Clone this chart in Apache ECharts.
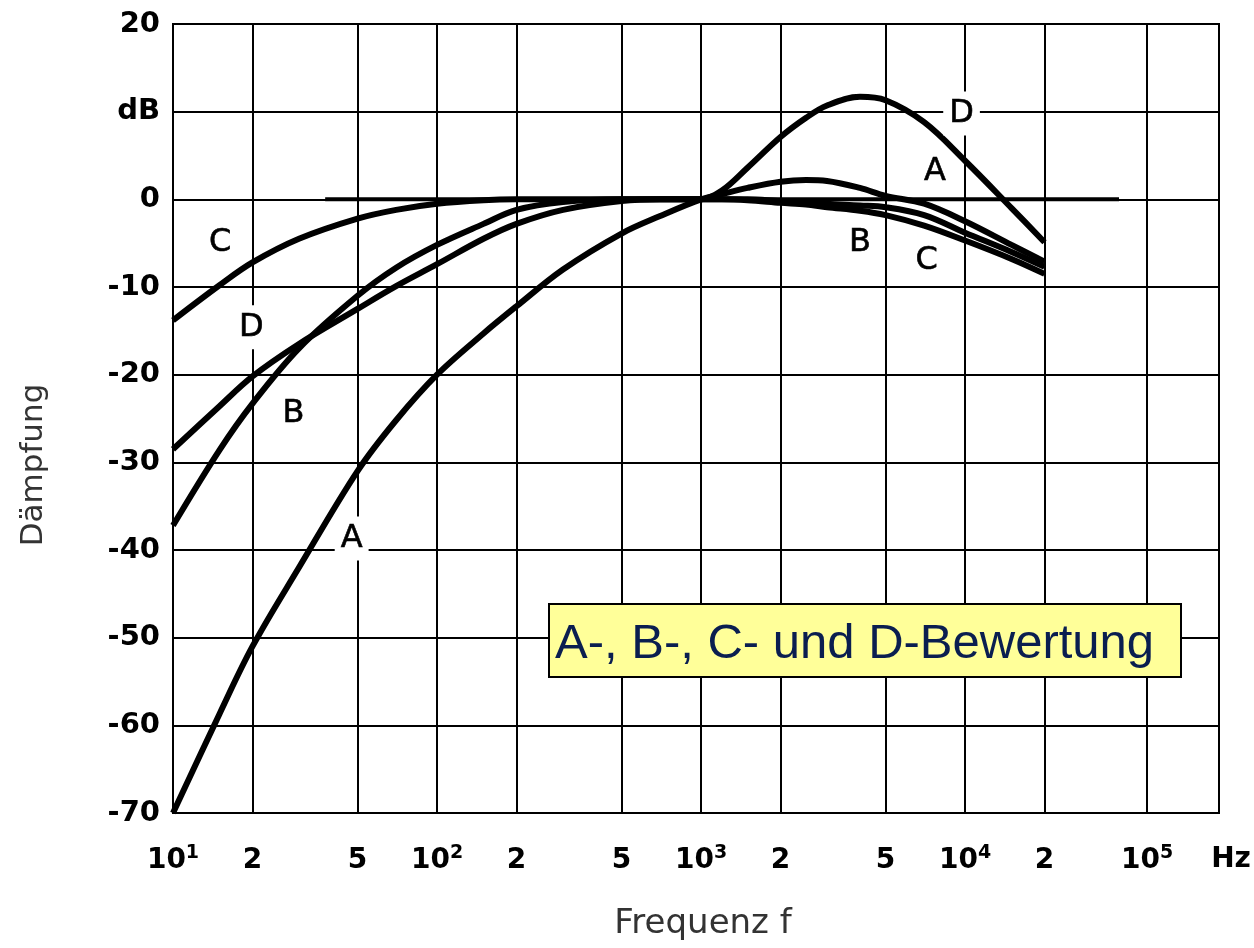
<!DOCTYPE html>
<html><head><meta charset="utf-8">
<script src="https://cdn.jsdelivr.net/npm/echarts@6/dist/echarts.min.js"></script>
<style>html,body{margin:0;padding:0;background:#fff}#c{width:1254px;height:948px}</style>
</head><body><div id="c"></div>
<script>
// ---- data ----
const freqHz = [10, 15, 20, 30, 50, 70, 100, 150, 200, 300, 500, 700, 1000, 1200, 1500, 2000, 2500, 3000, 4000, 5000, 7000, 10000, 15000, 20000];
const curveA = [-70, -58.7, -51, -42, -31, -25.2, -20, -15.3, -12.2, -8.0, -3.9, -1.9, 0, 0.6, 1.3, 2.0, 2.2, 2.1, 1.3, 0.4, -0.5, -2.5, -5.2, -7.1];
const curveB = [-37.2, -28.6, -23.3, -17, -11.0, -7.8, -5.2, -2.8, -1.2, -0.3, 0, 0, 0, 0, 0, -0.2, -0.3, -0.5, -0.7, -0.9, -1.8, -3.8, -6.0, -7.7];
const curveC = [-13.8, -9.8, -7.2, -4.5, -2.2, -1.2, -0.5, -0.1, 0, 0, 0, 0, 0, 0, -0.1, -0.4, -0.6, -0.9, -1.3, -1.8, -3.0, -4.7, -6.8, -8.5];
const curveD = [-28.5, -23.6, -20.2, -16.5, -12.5, -9.9, -7.4, -4.5, -2.8, -1.2, -0.2, 0, 0, 1.0, 3.6, 7.1, 9.3, 10.7, 11.7, 11.3, 8.8, 4.4, -1.0, -4.9];
const refLineHz = [37.7, 38300];
const refLineDb = [0, 0];
// grid lines of the original (its "10^5" line is drawn at ~49 kHz)
const xTickHz = [10, 20, 50, 100, 200, 500, 1000, 2000, 5000, 10000, 20000, 48900];
const xTickLabels = ['10^1', '2', '5', '10^2', '2', '5', '10^3', '2', '5', '10^4', '2', '10^5'];
const xMinHz = 10, xMaxHz = 91600;
const yTickDb = [-70, -60, -50, -40, -30, -20, -10, 0, 10, 20];
const yTickLabels = ['-70', '-60', '-50', '-40', '-30', '-20', '-10', '0', 'dB', '20'];
const curveLabels = [
  {text: 'C', hz: 15.1, db: -5.0, bg: false},
  {text: 'D', hz: 19.8, db: -14.6, bg: true},
  {text: 'B', hz: 28.6, db: -24.5, bg: false},
  {text: 'A', hz: 47.5, db: -38.7, bg: true},
  {text: 'D', hz: 9700, db: 9.8, bg: true},
  {text: 'A', hz: 7690, db: 3.1, bg: false},
  {text: 'B', hz: 4000, db: -4.9, bg: false},
  {text: 'C', hz: 7160, db: -7.0, bg: false}
];
const titleText = 'A-, B-, C- und D-Bewertung';

// ---- chart ----
const L = Math.log10;
const tickPos = xTickHz.map(L);
function mk(vals) { return freqHz.map((f, i) => [L(f), vals[i]]); }
const curveStyle = {type: 'line', smooth: 0.35, symbol: 'none', lineStyle: {color: '#000', width: 6}, z: 3};
const FONT = '"DejaVu Sans", sans-serif';

const chart = echarts.init(document.getElementById('c'));
chart.setOption({
  animation: false,
  backgroundColor: '#fff',
  grid: {left: 173, top: 24, right: 35, bottom: 135, show: true, borderColor: '#000', borderWidth: 2, outerBoundsMode: 'none', containLabel: false},
  xAxis: {
    type: 'value', min: L(xMinHz), max: L(xMaxHz),
    axisLine: {show: true, lineStyle: {color: '#000', width: 2}},
    axisTick: {show: false, customValues: tickPos},
    splitLine: {show: true, lineStyle: {color: '#000', width: 2}},
    axisLabel: {
      customValues: tickPos, margin: 31,
      formatter: function (v) {
        let idx = 0, best = 1e9;
        tickPos.forEach((p, i) => { if (Math.abs(p - v) < best) { best = Math.abs(p - v); idx = i; } });
        const t = xTickLabels[idx];
        if (t.indexOf('^') >= 0) { const p = t.split('^'); return '{b|' + p[0] + '}{s|' + p[1] + '}'; }
        return '{b|' + t + '}';
      },
      rich: {
        b: {fontFamily: FONT, fontWeight: 'bold', fontSize: 28, color: '#000', lineHeight: 34},
        s: {fontFamily: FONT, fontWeight: 'bold', fontSize: 19, color: '#000', lineHeight: 19, verticalAlign: 'top'}
      }
    },
    name: 'Frequenz f', nameLocation: 'middle', nameGap: 94,
    nameTextStyle: {fontFamily: FONT, fontSize: 34, color: '#333', padding: [0, 0, 0, 14]}
  },
  yAxis: {
    type: 'value', min: -70, max: 20, interval: 10,
    axisLine: {show: true, lineStyle: {color: '#000', width: 2}},
    axisTick: {show: false},
    splitLine: {show: true, lineStyle: {color: '#000', width: 2}},
    axisLabel: {
      margin: 13, fontFamily: FONT, fontWeight: 'bold', fontSize: 29, color: '#000',
      formatter: function (v) { const i = yTickDb.indexOf(Math.round(v)); return i >= 0 ? yTickLabels[i] : ''; }
    }
  },
  graphic: [
    {type: 'text', x: 34, y: 465, rotation: Math.PI / 2, z: 100,
     style: {text: 'Dämpfung', font: '31px "DejaVu Sans"', fill: '#333', align: 'center', verticalAlign: 'middle'}},
    {type: 'text', x: 1231, y: 860, z: 100,
     style: {text: 'Hz', font: 'bold 28px "DejaVu Sans"', fill: '#000', align: 'center', verticalAlign: 'middle'}},
    {type: 'rect', shape: {x: 549, y: 604, width: 632, height: 73}, z: 100,
     style: {fill: '#FFFF99', stroke: '#000', lineWidth: 2}},
    {type: 'text', x: 555, y: 644, z: 101,
     style: {text: titleText, font: '49px "Liberation Sans"', fill: '#0A1E50', align: 'left', verticalAlign: 'middle'}}
  ],
  series: [
    Object.assign({name: 'ref', data: refLineHz.map((f, i) => [L(f), refLineDb[i]])}, curveStyle, {smooth: false, lineStyle: {color: '#000', width: 4}}),
    Object.assign({name: 'A', data: mk(curveA)}, curveStyle),
    Object.assign({name: 'B', data: mk(curveB)}, curveStyle),
    Object.assign({name: 'C', data: mk(curveC)}, curveStyle),
    Object.assign({name: 'D', data: mk(curveD)}, curveStyle),
    {
      type: 'scatter', z: 5, symbolSize: 0.01, itemStyle: {color: '#000', opacity: 1},
      data: curveLabels.map(c => ({
        value: [L(c.hz), c.db], name: c.text,
        label: {show: true, position: 'inside', formatter: '{b}', fontFamily: FONT, fontSize: 32, color: '#000', opacity: 1,
          textBorderColor: '#000', textBorderWidth: 0.6,
          backgroundColor: c.bg ? '#fff' : 'transparent', padding: c.bg ? [6, 6, 6, 6] : 0}
      }))
    }
  ]
});
</script></body></html>
